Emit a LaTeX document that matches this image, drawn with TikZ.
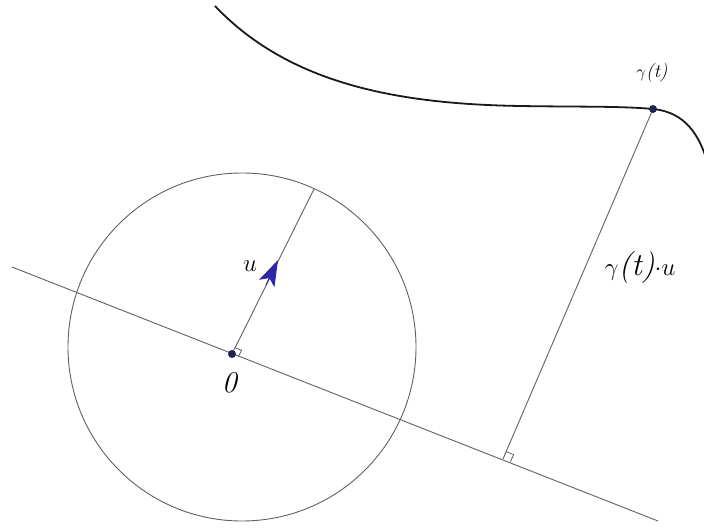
\documentclass[tikz,border=0pt]{standalone}
\usetikzlibrary{calc,arrows.meta}
\definecolor{linegray}{RGB}{95,95,105}
\definecolor{dotnavy}{RGB}{35,35,80}
\definecolor{arrowblue}{RGB}{45,40,165}
\tikzset{
  thinline/.style={draw=linegray,line width=0.9pt},
  curveline/.style={draw=black!90,line width=1.8pt},
  ptdot/.style={circle,fill=dotnavy,inner sep=0pt,minimum size=8pt},
  lbl/.style={inner sep=0pt},
  ramark/.style={draw=linegray,line width=0.8pt}
}
\begin{document}
\begin{tikzpicture}[x=1pt,y=-1pt]
\useasboundingbox (0,0) rectangle (704,529);
\clip (0,0) rectangle (704,529);
% key points
\coordinate (O) at (232,354);
\coordinate (C) at (242,347);
\coordinate (L1) at (12,267);
\coordinate (L2) at (658,521);
\coordinate (R) at (314,189);
\coordinate (G) at (653,109);
\coordinate (F) at (503,459);
\coordinate (Tip) at (278,260);
\coordinate (Tail) at (266,285);
% circle
\draw[thinline] (C) circle (174);
% line through origin
\draw[thinline] (L1) -- (L2);
% radius along u
\draw[thinline] (O) -- (R);
% projection from gamma(t)
\draw[thinline] (G) -- (F);
% right-angle marks
\coordinate (Oa) at ($(O)!7pt!(L2)$);
\coordinate (Ob) at ($(O)!7pt!(R)$);
\draw[ramark] (Oa) -- ($(Oa)+(Ob)-(O)$) -- (Ob);
\coordinate (Fa) at ($(F)!8pt!(L2)$);
\coordinate (Fb) at ($(F)!8pt!(G)$);
\draw[ramark] (Fa) -- ($(Fa)+(Fb)-(F)$) -- (Fb);
% curve
\draw[curveline] (215,6) .. controls (290,85) and (400,104) .. (520,106)
  .. controls (580,107) and (620,106) .. (653,109)
  .. controls (685,112) and (700,135) .. (708,165);
% arrow u
\draw[draw=arrowblue,line width=1pt,-{Stealth[length=26pt,width=17pt,inset=6pt]}] (Tail) -- (Tip);
% dots
\node[ptdot] (o) at (O) {};
\node[ptdot] (g) at (G) {};
% labels
\node[lbl,font=\fontsize{28}{30}\selectfont] (lu) at (250,266) {$u$};
\node[lbl,font=\fontsize{30}{32}\selectfont] (l0) at (230,383) {\textit{0}};
\node[lbl,font=\fontsize{19}{21}\selectfont] (lg) at (652,73) {$\gamma\textit{(t)}$};
\node[lbl,font=\fontsize{32}{34}\selectfont] (lgu) at (640,268) {$\gamma\textit{(t)}{\cdot}u$};
\end{tikzpicture}
\end{document}
